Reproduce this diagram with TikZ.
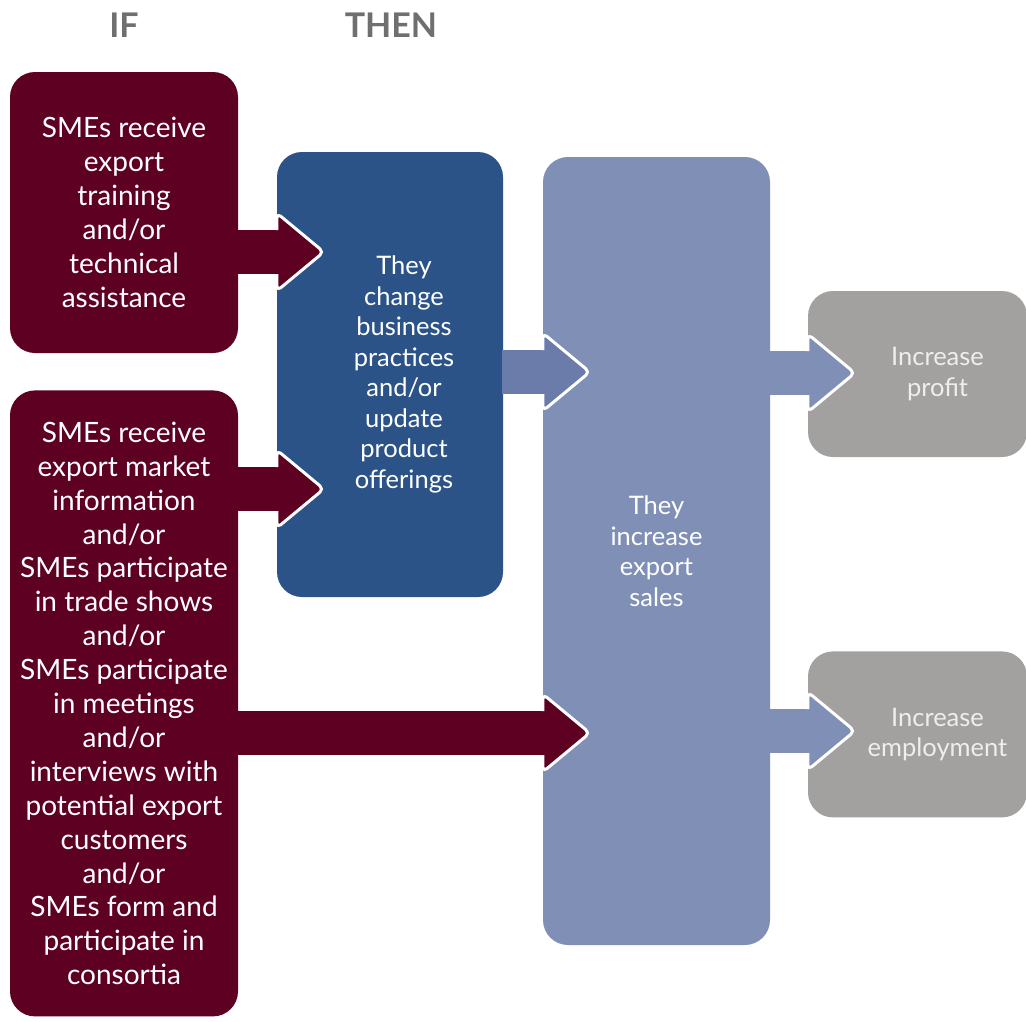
\documentclass[tikz,border=0pt]{standalone}
\usepackage{fontspec}
\setmainfont{Lato}
\usetikzlibrary{calc,positioning}

\definecolor{ifred}{HTML}{5E0022}
\definecolor{thenblue}{HTML}{2B5388}
\definecolor{salesblue}{HTML}{7F8FB6}
\definecolor{arrowblue}{HTML}{6B7CAA}
\definecolor{outgrey}{HTML}{A3A19F}
\definecolor{headgrey}{HTML}{6F6F6F}
\definecolor{outtext}{HTML}{EEEEEE}

\begin{document}
\begin{tikzpicture}[x=1pt, y=-1pt,
	box/.style={rectangle, rounded corners=25pt, inner sep=0pt, align=center,
		text=white, font=\fontsize{28}{33.9}\selectfont},
	boxtext/.style={align=center, font=\fontsize{25.5}{30.5}\selectfont},
	head/.style={font=\bfseries\fontsize{34}{38}\selectfont, text=headgrey},
	tip/.style={draw=white, line width=3pt, rounded corners=5pt, line join=round}]
	\useasboundingbox (0,0) rectangle (1026,1021);

	\node[head] (hif) at (124,25) {IF};
	\node[head] (hthen) at (391,25) {THEN};

	\node[box, fill=ifred, minimum width=228pt, minimum height=281pt] (b1) at (124,212.5)
		{SMEs receive\\export\\training\\and/or\\technical\\assistance};
	\node[box, fill=ifred, minimum width=228pt, minimum height=626pt, below=37pt of b1] (b2)
		{SMEs receive\\export market\\information\\and/or\\SMEs participate\\in trade shows\\and/or\\SMEs participate\\in meetings\\and/or\\interviews with\\potential export\\customers\\and/or\\SMEs form and\\participate in\\consortia};

	\node[box, fill=thenblue, minimum width=226pt, minimum height=445pt,
		label={[boxtext, text=white, xshift=14pt]center:They\\change\\business\\practices\\and/or\\update\\product\\offerings}] (chg) at (390,374.5) {};
	\node[box, fill=salesblue, minimum width=227pt, minimum height=788pt,
		label={[boxtext, text=white]center:They\\increase\\export\\sales}] (sales) at (656.5,551) {};

	\node[box, fill=outgrey, minimum width=219pt, minimum height=166pt,
		label={[boxtext, text=outtext, xshift=20pt]center:Increase\\profit}] (prof) at (917.5,374) {};
	\node[box, fill=outgrey, minimum width=219pt, minimum height=166pt, below=194pt of prof,
		label={[boxtext, text=outtext, xshift=20pt]center:Increase\\employment}] (empl) {};

	\coordinate (lv1) at (0,252);
	\coordinate (lv2) at (0,489);
	\coordinate (lv3) at (0,372);
	\coordinate (lv4) at (0,373);
	\coordinate (lv5) at (0,731);
	\coordinate (lv6) at (0,733);

	% IF boxes into THEN boxes
	\fill[ifred] ($(b1.east |- lv1)+(-1,-22)$) rectangle ($(chg.west |- lv1)+(3,22)$);
	\filldraw[tip, fill=ifred] ($(chg.west |- lv1)+(0,-22)$) -- ++(0,-17) -- ++(47,39) -- ++(-47,39) -- ++(0,-17);
	\fill[ifred] ($(b2.east |- lv2)+(-1,-22)$) rectangle ($(chg.west |- lv2)+(3,22)$);
	\filldraw[tip, fill=ifred] ($(chg.west |- lv2)+(0,-22)$) -- ++(0,-17) -- ++(47,39) -- ++(-47,39) -- ++(0,-17);
	\fill[ifred] ($(b2.east |- lv6)+(-1,-22)$) rectangle ($(sales.west |- lv6)+(3,22)$);
	\filldraw[tip, fill=ifred] ($(sales.west |- lv6)+(0,-22)$) -- ++(0,-17) -- ++(47,39) -- ++(-47,39) -- ++(0,-17);

	% THEN boxes onwards
	\fill[arrowblue] ($(chg.east |- lv3)+(-1,-22)$) rectangle ($(sales.west |- lv3)+(3,22)$);
	\filldraw[tip, fill=arrowblue] ($(sales.west |- lv3)+(0,-22)$) -- ++(0,-17) -- ++(47,39) -- ++(-47,39) -- ++(0,-17);
	\fill[salesblue] ($(sales.east |- lv4)+(-1,-22)$) rectangle ($(prof.west |- lv4)+(3,22)$);
	\filldraw[tip, fill=salesblue] ($(prof.west |- lv4)+(0,-22)$) -- ++(0,-17) -- ++(47,39) -- ++(-47,39) -- ++(0,-17);
	\fill[salesblue] ($(sales.east |- lv5)+(-1,-22)$) rectangle ($(empl.west |- lv5)+(3,22)$);
	\filldraw[tip, fill=salesblue] ($(empl.west |- lv5)+(0,-22)$) -- ++(0,-17) -- ++(47,39) -- ++(-47,39) -- ++(0,-17);
\end{tikzpicture}
\end{document}
